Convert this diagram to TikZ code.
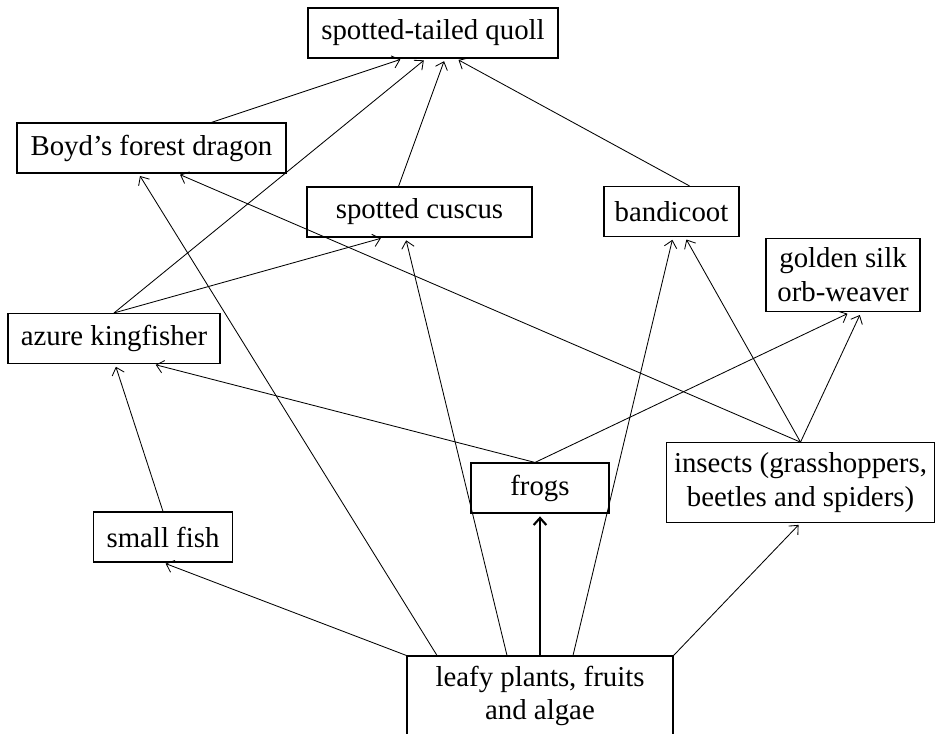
\documentclass[tikz,border=0pt]{standalone}
\usepackage{fontspec}
\setmainfont{Liberation Serif}
\usetikzlibrary{calc,arrows.meta}
\begin{document}
\begin{tikzpicture}[x=0.025cm,y=-0.025cm,
  box/.style={draw,line width=0.8pt,inner xsep=4pt,inner ysep=7pt,
    minimum height=1.25cm,align=center,font=\fontsize{20.5}{24}\selectfont},
  link/.style={-{Straight Barb[length=5pt,width=9pt]},line width=0.6pt,shorten >=2pt}]
  \useasboundingbox (0,0) rectangle (937,733);
  % the animals and plants
  \node[box,minimum width=6.25cm] (quoll) at (433,33) {spotted-tailed quoll};
  \node[box,minimum width=6.725cm] (dragon) at (151.5,148) {Boyd's forest dragon};
  \node[box,minimum width=5.625cm] (cuscus) at (419.5,212) {spotted cuscus};
  \node[box,minimum width=3.375cm] (bandicoot) at (671.5,211.5) {bandicoot};
  \node[box,minimum width=3.85cm] (weaver) at (843,275) {golden silk\\orb-weaver};
  \node[box,minimum width=5.3cm] (kingfisher) at (114,338.5) {azure kingfisher};
  \node[box,minimum width=3.45cm] (frogs) at (540,488) {frogs};
  \node[box,minimum width=6.7cm] (insects) at (800.5,482.5) {insects (grasshoppers,\\beetles and spiders)};
  \node[box,minimum width=3.475cm] (fish) at (163,537) {small fish};
  \node[box,minimum width=6.65cm] (leafy) at (540,696) {leafy plants, fruits\\and algae};
  % who eats whom
  \draw[link] ($(dragon.north)+(60,0)$) -- ($(quoll.south)+(-30,0)$);
  \draw[link] (kingfisher.north) -- ($(quoll.south)+(-7,0)$);
  \draw[link] ($(cuscus.north)+(-21,0)$) -- ($(quoll.south)+(12,0)$);
  \draw[link] ($(bandicoot.north)+(18,0)$) -- ($(quoll.south)+(23,0)$);
  \draw[link] (kingfisher.north) -- ($(cuscus.south)+(-36,0)$);
  \draw[link] (fish.north) -- ($(kingfisher.south)+(1,0)$);
  \draw[link] ($(frogs.north)+(-5,0)$) -- ($(kingfisher.south)+(39,0)$);
  \draw[link] ($(frogs.north)+(-5,0)$) -- ($(weaver.south)+(7,0)$);
  \draw[link] (insects.north) -- ($(dragon.south)+(26,0)$);
  \draw[link] (insects.north) -- ($(bandicoot.south)+(13.5,0)$);
  \draw[link] (insects.north) -- ($(weaver.south)+(18,0)$);
  \draw[link] (leafy.north west) -- (fish.south);
  \draw[link] ($(leafy.north)+(-103,0)$) -- ($(dragon.south)+(-13,0)$);
  \draw[link] ($(leafy.north)+(-33,0)$) -- ($(cuscus.south)+(-14,0)$);
  \draw[link,line width=1.5pt] (leafy.north) -- (frogs.south);
  \draw[link] ($(leafy.north)+(33,0)$) -- ($(bandicoot.south)+(1.5,0)$);
  \draw[link] (leafy.north east) -- (insects.south);
\end{tikzpicture}
\end{document}
